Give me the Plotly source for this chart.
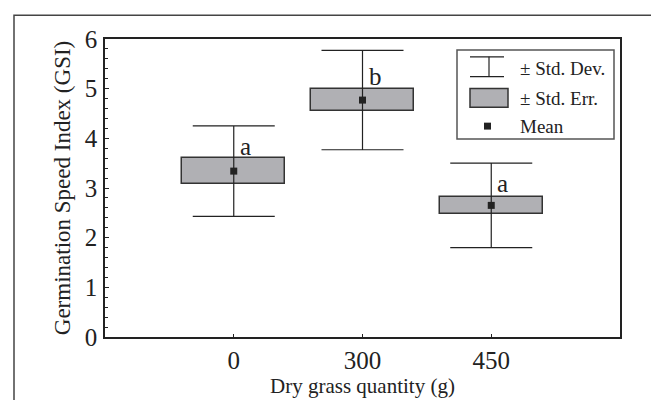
import plotly.graph_objects as go

# ---- data ----
categories = ["0", "300", "450"]
means = [3.34, 4.77, 2.65]
std_err = [0.26, 0.225, 0.175]
std_dev = [0.91, 1.0, 0.85]
letters = ["a", "b", "a"]
letter_y = [3.84, 5.25, 3.10]

y_ticks = [0, 1, 2, 3, 4, 5, 6]

FONT = "Liberation Serif"
INK = "#222222"
GREY = "#b0b0b4"

# plot area in pixels
L, R, T, B = 105, 620, 39, 340
W, H = 651, 400


def px(x):
    return (x - L) / (R - L)


def py(y):
    return (B - y) / (B - T)


fig = go.Figure()

fig.add_trace(go.Bar(
    x=categories,
    y=[2 * s for s in std_err],
    base=[m - s for m, s in zip(means, std_err)],
    width=0.8,
    marker=dict(color=GREY, line=dict(color="#333333", width=1.5)),
    showlegend=False,
    hoverinfo="skip",
))

fig.add_trace(go.Scatter(
    x=categories,
    y=means,
    mode="markers",
    marker=dict(symbol="square", size=7, color=INK),
    error_y=dict(type="data", array=std_dev, width=41, thickness=1.2, color=INK),
    showlegend=False,
))

for i, (t, yv) in enumerate(zip(letters, letter_y)):
    fig.add_annotation(x=i, y=yv, text=t, showarrow=False, xanchor="left",
                       xshift=4, font=dict(family=FONT, size=25, color=INK))

# ---- custom legend ----
shapes = []
shapes.append(dict(type="rect", xref="paper", yref="paper",
                   x0=px(457), x1=px(614), y0=py(140), y1=py(50),
                   line=dict(color="#555555", width=1.5), fillcolor="white"))
# std dev symbol
for yy in (57, 77):
    shapes.append(dict(type="line", xref="paper", yref="paper",
                       x0=px(470), x1=px(504), y0=py(yy), y1=py(yy),
                       line=dict(color=INK, width=1.2)))
shapes.append(dict(type="line", xref="paper", yref="paper",
                   x0=px(489), x1=px(489), y0=py(57), y1=py(77),
                   line=dict(color=INK, width=1.2)))
# std err symbol
shapes.append(dict(type="rect", xref="paper", yref="paper",
                   x0=px(470), x1=px(508), y0=py(108), y1=py(89),
                   line=dict(color="#333333", width=1.5), fillcolor=GREY))
# mean symbol
shapes.append(dict(type="rect", xref="paper", yref="paper",
                   x0=px(484), x1=px(491), y0=py(130.5), y1=py(123.5),
                   line=dict(width=0), fillcolor=INK))
# outer frame (cropped)
shapes.append(dict(type="rect", xref="paper", yref="paper",
                   x0=px(14), x1=px(660), y0=py(410), y1=py(15),
                   line=dict(color="#444444", width=1.5), layer="below"))

for label, yy in zip(["± Std. Dev.", "± Std. Err.", "Mean"], [69, 99, 127]):
    fig.add_annotation(xref="paper", yref="paper", x=px(518), y=py(yy),
                       text=label, showarrow=False, xanchor="left", yanchor="middle",
                       font=dict(family=FONT, size=19, color=INK))

fig.update_layout(
    width=W, height=H,
    margin=dict(l=L, r=W - R, t=T, b=H - B),
    paper_bgcolor="white", plot_bgcolor="white",
    shapes=shapes,
    font=dict(family=FONT, color=INK),
    bargap=0,
)

fig.update_xaxes(
    type="category", range=[-1, 3],
    showgrid=False, zeroline=False,
    showline=True, linecolor=INK, linewidth=1.5, mirror=True,
    ticks="inside", ticklen=3, tickcolor=INK,
    tickfont=dict(family=FONT, size=25, color=INK),
    title=dict(text="Dry grass quantity (g)", font=dict(family=FONT, size=21, color=INK), standoff=0),
)
fig.update_yaxes(
    range=[0, 6], tickvals=y_ticks,
    showgrid=False, zeroline=False,
    showline=True, linecolor=INK, linewidth=1.5, mirror=True,
    ticks="inside", ticklen=4, tickcolor=INK,
    minor=dict(ticks="inside", dtick=0.2, ticklen=3, tickcolor=INK),
    tickfont=dict(family=FONT, size=25, color=INK),
    ticklabelstandoff=1,
    title=dict(text="Germination Speed Index (GSI)", font=dict(family=FONT, size=23, color=INK), standoff=8),
)

fig.write_html("out.html")
